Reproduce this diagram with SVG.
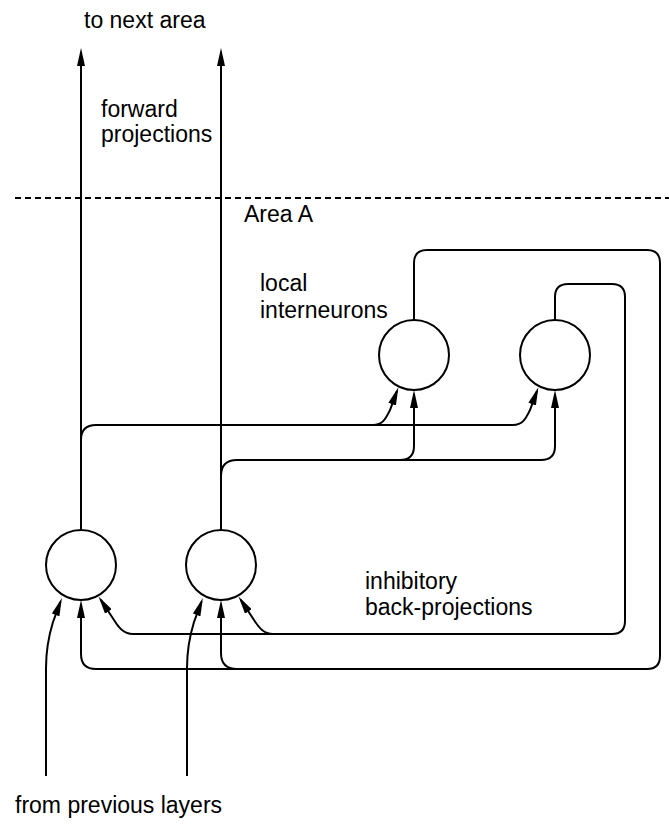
<svg xmlns="http://www.w3.org/2000/svg" width="669" height="826" viewBox="0 0 669 826">
<style>
.ln{fill:none;stroke:#000;stroke-width:2}
.ar{marker-end:url(#ah)}
.nd{fill:#fff;stroke:#000;stroke-width:2}
.tx{font-family:"Liberation Sans",Arial,sans-serif;font-size:23px;fill:#000}
.dash{fill:none;stroke:#000;stroke-width:2;stroke-dasharray:6 4}
</style>
<defs>
<marker id="ah" viewBox="0 0 18 8" refX="14" refY="4" markerWidth="18" markerHeight="8" markerUnits="userSpaceOnUse" orient="auto">
<path d="M0,0 L18,4 L0,8 z" fill="#000"/>
</marker>
</defs>
<rect width="669" height="826" fill="#fff"/>
<path class="dash" d="M15,198 L669,198"/>
<g id="connectors">
<path class="ln ar" d="M81,530 L81,52"/>
<path class="ln ar" d="M221,530 L221,52"/>
<path class="ln" d="M81,440 Q81,425 96,425 L373,425"/>
<path class="ln ar" d="M373,425 C383,425 386,418 390,410 L397,391"/>
<path class="ln ar" d="M373,425 L513,425 C523,425 526,418 530,410 L537,391"/>
<path class="ln" d="M221,476 Q221,460 237,460 L400,460"/>
<path class="ln ar" d="M400,460 Q414,460 414,446 L414,394"/>
<path class="ln ar" d="M400,460 L541,460 Q555,460 555,446 L555,394"/>
<path class="ln ar" d="M414,320 L414,263 Q414,250 427,250 L647,250 Q660,250 660,263 L660,656 Q660,669 647,669 L96,669 Q81,669 81,654 L81,604"/>
<path class="ln ar" d="M237,669 Q221,669 221,653 L221,604"/>
<path class="ln ar" d="M555,320 L555,297 Q555,284 568,284 L612,284 Q625,284 625,297 L625,621 Q625,634 612,634 L133,634 C124,634 119,628 114,620 L100.7,599.8"/>
<path class="ln ar" d="M273,634 C264,634 259,628 254,620 L240.7,599.8"/>
<path class="ln ar" d="M46,776 L46,668 C46,650 49,635 53,622 L60.5,601.8"/>
<path class="ln ar" d="M187,776 L187,668 C187,650 190,635 194,622 L201.5,601.8"/>
</g>
<g id="n1"><circle class="nd" cx="81" cy="565" r="35"/></g>
<g id="n2"><circle class="nd" cx="221" cy="565" r="35"/></g>
<g id="i1"><circle class="nd" cx="414" cy="355" r="35"/></g>
<g id="i2"><circle class="nd" cx="555" cy="355" r="35"/></g>
<g id="labels">
<text class="tx" x="84" y="28">to next area</text>
<text class="tx" x="101" y="117">forward</text>
<text class="tx" x="101" y="142">projections</text>
<text class="tx" x="244" y="222">Area A</text>
<text class="tx" x="260" y="291">local</text>
<text class="tx" x="260" y="318">interneurons</text>
<text class="tx" x="365" y="589">inhibitory</text>
<text class="tx" x="365" y="615">back-projections</text>
<text class="tx" x="15" y="813">from previous layers</text>
</g>
</svg>
